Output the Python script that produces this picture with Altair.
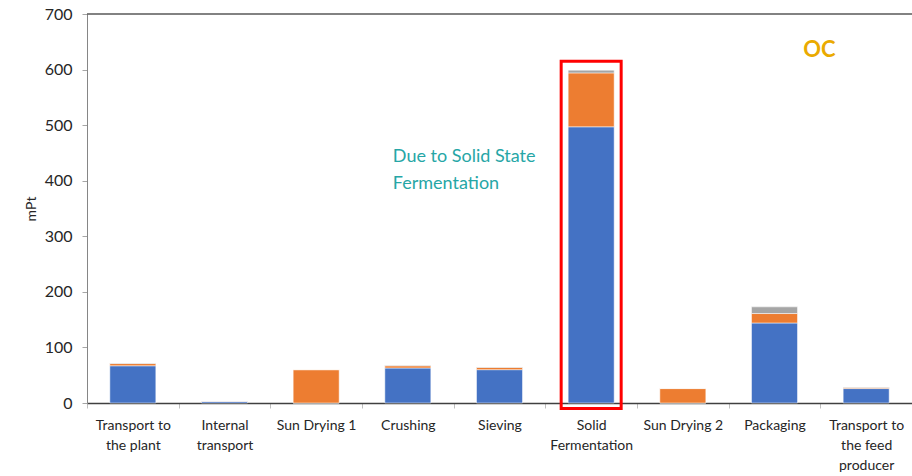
import altair as alt
import pandas as pd

# ---- data ----
categories = ["Transport to|the plant", "Internal|transport", "Sun Drying 1", "Crushing",
              "Sieving", "Solid|Fermentation", "Sun Drying 2", "Packaging",
              "Transport to|the feed|producer"]
blue = [67, 3, 0, 63, 60, 497, 0, 144, 26]
orange = [4, 0.5, 60, 4, 4, 97, 26, 17, 2]
gray = [1, 0, 0, 1, 1, 5, 0, 12, 1]
components = ["Component 1", "Component 2", "Component 3"]
colors = ["#4472C4", "#ED7D31", "#A5A5A5"]
y_ticks = [0, 100, 200, 300, 400, 500, 600, 700]

rows = []
for i, c in enumerate(categories):
    for k, (comp, vals) in enumerate(zip(components, [blue, orange, gray])):
        rows.append({"category": c, "component": comp, "order": k, "value": vals[i]})
df = pd.DataFrame(rows)

FONT = "Lato"

xenc = alt.X("category:N", sort=categories,
             scale=alt.Scale(paddingInner=0, paddingOuter=0),
             axis=alt.Axis(title=None, labelAngle=0, tickBand="extent",
                           labelExpr="split(datum.label, '|')",
                           labelFont=FONT, labelFontSize=14, labelColor="#262626",
                           labelLineHeight=20, labelPadding=10,
                           domainColor="#404040", domainWidth=1.5,
                           tickColor="#BFBFBF", tickSize=5, grid=False))

yscale = alt.Scale(domain=[0, 700], nice=False)

bars = alt.Chart(df).mark_bar(size=46, stroke="white", strokeWidth=0.5).encode(
    x=xenc,
    y=alt.Y("sum(value):Q", scale=yscale, stack="zero",
            axis=alt.Axis(title="mPt", values=y_ticks, grid=False,
                          labelFont=FONT, labelFontSize=16, labelColor="#262626",
                          labelPadding=10, tickSize=5, tickColor="#A6A6A6",
                          domainColor="#868686", domainWidth=1,
                          titleFont=FONT, titleFontSize=14, titleFontWeight="normal",
                          titleColor="#262626", titlePadding=6)),
    color=alt.Color("component:N", scale=alt.Scale(domain=components, range=colors), legend=None),
    order=alt.Order("order:Q"),
)

top_rule = alt.Chart(pd.DataFrame({"y": [700]})).mark_rule(color="#595959", strokeWidth=1.5).encode(
    y=alt.Y("y:Q", scale=yscale)
)

box_df = pd.DataFrame({"category": ["Solid|Fermentation"], "lo": [-10], "hi": [615]})
box = alt.Chart(box_df).mark_bar(size=60, fillOpacity=0, stroke="#FF0000", strokeWidth=3).encode(
    x=alt.X("category:N", sort=categories),
    y=alt.Y("lo:Q", scale=yscale),
    y2="hi:Q",
)

note_df = pd.DataFrame({"category": ["Crushing"], "y": [434],
                        "text": [["Due to Solid State", "Fermentation"]]})
note = alt.Chart(note_df).mark_text(align="left", baseline="alphabetic", dx=-15,
                                    font=FONT, fontSize=18, color="#26A6A6",
                                    lineHeight=27).encode(
    x=alt.X("category:N", sort=categories),
    y=alt.Y("y:Q", scale=yscale),
    text="text",
)

oc_df = pd.DataFrame({"category": ["Packaging"], "y": [635], "text": ["OC"]})
oc = alt.Chart(oc_df).mark_text(align="center", baseline="middle", dx=45,
                                font=FONT, fontSize=22, fontWeight="bold",
                                color="#EAAA00").encode(
    x=alt.X("category:N", sort=categories),
    y=alt.Y("y:Q", scale=yscale),
    text="text",
)

chart = alt.layer(bars, top_rule, box, note, oc).properties(
    width=825, height=389,
    autosize=alt.AutoSizeParams(type="none"),
    padding={"left": 87, "top": 14, "right": 0, "bottom": 73},
    background="white",
).configure_view(stroke=None)

chart.save("out.html", embed_options={"renderer": "svg", "actions": False})
